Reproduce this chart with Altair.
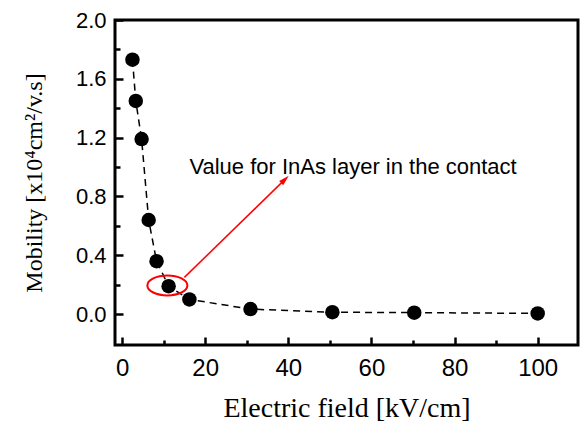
import altair as alt
import pandas as pd

# data
field = [2.5, 3.3, 4.7, 6.4, 8.3, 11.2, 16.2, 30.9, 50.6, 70.3, 100.0]
mobility = [1.73, 1.45, 1.19, 0.64, 0.36, 0.19, 0.10, 0.034, 0.013, 0.010, 0.005]

x_major = [0, 20, 40, 60, 80, 100]
x_minor = [10, 30, 50, 70, 90]
y_major = [0.0, 0.4, 0.8, 1.2, 1.6, 2.0]
y_minor = [0.2, 0.6, 1.0, 1.4, 1.8]

note_text = ["Value for InAs layer in the contact"]
note_x = [16.2]
note_y = [1.0]
ellipse_x = [10.9]
ellipse_y = [0.195]
arrow_x0 = [15.0]
arrow_y0 = [0.25]
arrow_x1 = [39.2]
arrow_y1 = [0.916]

df = pd.DataFrame({"field": field, "mobility": mobility})
note_df = pd.DataFrame({"x": note_x, "y": note_y, "t": note_text})
ell_df = pd.DataFrame({"x": ellipse_x, "y": ellipse_y})
arr_df = pd.DataFrame({"x": arrow_x0, "y": arrow_y0, "x2": arrow_x1, "y2": arrow_y1})
head_df = pd.DataFrame({"x": arrow_x1, "y": arrow_y1})

xs = alt.Scale(domain=[-1.7, 109.7], nice=False, zero=False)
ys = alt.Scale(domain=[-0.21, 2.0], nice=False, zero=False)

SANS = "Liberation Sans"
SERIF = "Liberation Serif"

x_label_axis = alt.Axis(orient="bottom", values=x_major, ticks=False, domain=False, grid=False,
                        labelFont=SANS, labelFontSize=24, labelColor="black", labelPadding=11,
                        title="Electric field [kV/cm]", titleFont=SERIF, titleFontSize=28,
                        titleFontWeight="normal", titleColor="black", titlePadding=14)
y_label_axis = alt.Axis(orient="left", values=y_major, format=".1f", ticks=False, domain=False, grid=False,
                        labelFont=SANS, labelFontSize=22, labelColor="black", labelPadding=9,
                        title="Mobility [x10⁴cm²/v.s]", titleFont=SERIF, titleFontSize=24,
                        titleFontWeight="normal", titleColor="black", titlePadding=29)
x_major_axis = alt.Axis(orient="bottom", values=x_major, ticks=True, tickSize=8, tickWidth=2.5,
                        tickColor="black", labels=False, domain=False, grid=False, offset=-8)
y_major_axis = alt.Axis(orient="left", values=y_major, ticks=True, tickSize=8, tickWidth=2.5,
                        tickColor="black", labels=False, domain=False, grid=False, offset=-8)
x_minor_axis = alt.Axis(orient="bottom", values=x_minor, ticks=True, tickSize=5, tickWidth=2.5,
                        tickColor="black", labels=False, domain=False, grid=False, offset=-5)
y_minor_axis = alt.Axis(orient="left", values=y_minor, ticks=True, tickSize=5, tickWidth=2.5,
                        tickColor="black", labels=False, domain=False, grid=False, offset=-5)

line = alt.Chart(df).mark_line(color="black", strokeDash=[7, 5], strokeWidth=1.5).encode(
    x=alt.X("field:Q", scale=xs, axis=x_label_axis),
    y=alt.Y("mobility:Q", scale=ys, axis=y_label_axis),
)
points = alt.Chart(df).mark_circle(size=210, color="black", opacity=1).encode(
    x=alt.X("field:Q", scale=xs, axis=x_major_axis, title=None),
    y=alt.Y("mobility:Q", scale=ys, axis=y_major_axis, title=None),
)
ellipse = alt.Chart(ell_df).mark_point(
    shape="M -1 0 A 1 0.5 0 1 0 1 0 A 1 0.5 0 1 0 -1 0 Z",
    size=1600, color="red", filled=False, strokeWidth=2, opacity=1,
).encode(
    x=alt.X("x:Q", scale=xs, axis=x_minor_axis, title=None),
    y=alt.Y("y:Q", scale=ys, axis=y_minor_axis, title=None),
)
arrow = alt.Chart(arr_df).mark_rule(color="red", strokeWidth=1.5).encode(
    x=alt.X("x:Q", scale=xs, axis=None), y=alt.Y("y:Q", scale=ys, axis=None),
    x2="x2:Q", y2="y2:Q",
)
head = alt.Chart(head_df).mark_point(
    shape="M 0 -1 L 0.55 1 L -0.55 1 Z", size=110, color="red", filled=True, opacity=1, angle=46,
).encode(
    x=alt.X("x:Q", scale=xs, axis=None), y=alt.Y("y:Q", scale=ys, axis=None),
)
note = alt.Chart(note_df).mark_text(align="left", baseline="middle", font=SANS, fontSize=22,
                                     color="black").encode(
    x=alt.X("x:Q", scale=xs, axis=None), y=alt.Y("y:Q", scale=ys, axis=None), text="t:N",
)

chart = alt.layer(line, points, ellipse, arrow, head, note).resolve_axis(
    x="independent", y="independent"
).properties(
    width=463, height=325,
    padding={"left": 107, "top": 12, "right": 2, "bottom": 78},
    autosize=alt.AutoSizeParams(type="none"),
    background="white",
).configure_view(stroke="black", strokeWidth=3)

chart.save("out.html", embed_options={"renderer": "svg", "actions": False})
